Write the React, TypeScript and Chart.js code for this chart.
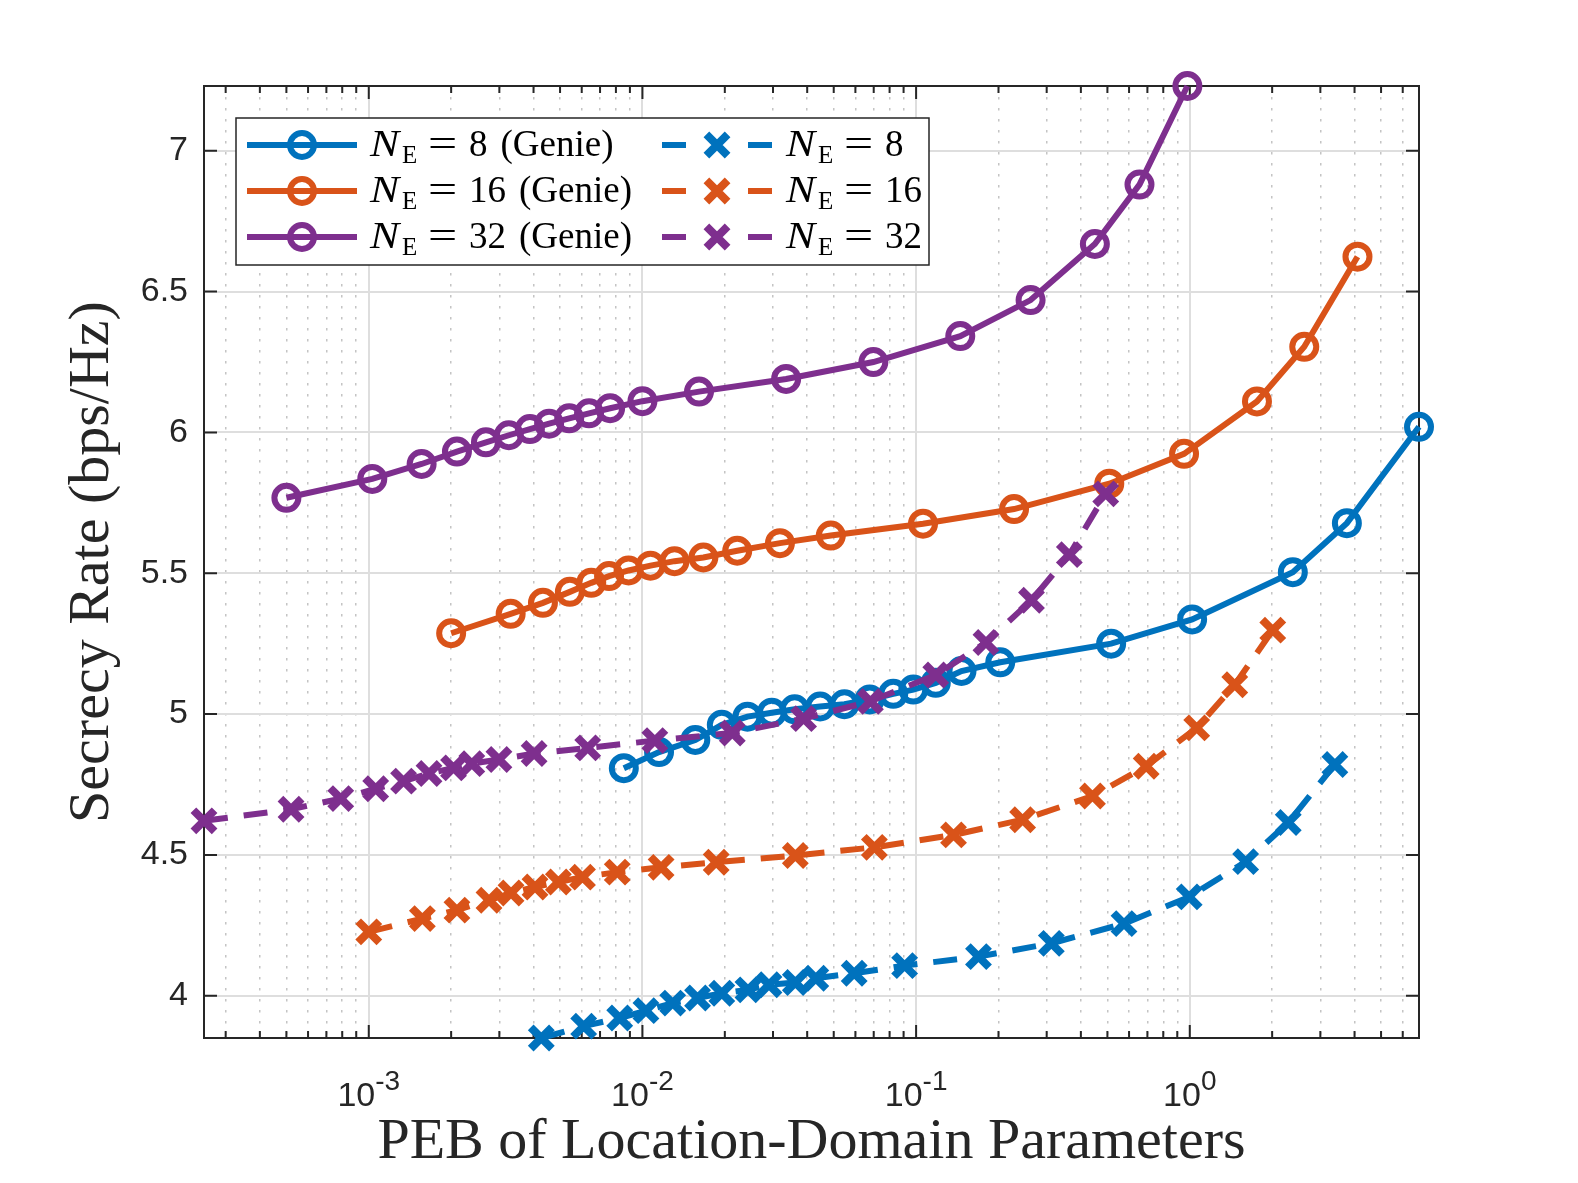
import { useEffect, useRef } from 'react';
import { Chart, registerables } from 'chart.js';
import type { Plugin } from 'chart.js';

Chart.register(...registerables);

const BLUE = '#0072BD';
const ORANGE = '#D95319';
const PURPLE = '#7E2F8E';
const AXIS = '#262626';

// genie (solid, circles)
const genie8X = [8.55e-3, 0.0115, 0.0156, 0.0195, 0.0242, 0.0297, 0.036, 0.0446, 0.0547, 0.0677, 0.0825, 0.0977, 0.118, 0.1465, 0.203, 0.516, 1.02, 2.38, 3.75, 6.88];
const genie8Y = [4.808, 4.865, 4.908, 4.962, 4.991, 5.005, 5.017, 5.027, 5.035, 5.052, 5.072, 5.087, 5.111, 5.153, 5.184, 5.25, 5.336, 5.504, 5.678, 6.02];

const genie16X = [2.0e-3, 3.3e-3, 4.33e-3, 5.43e-3, 6.5e-3, 7.55e-3, 8.9e-3, 0.0107, 0.0131, 0.0167, 0.0222, 0.0318, 0.0488, 0.106, 0.228, 0.508, 0.953, 1.76, 2.62, 4.1];
const genie16Y = [5.287, 5.356, 5.395, 5.434, 5.466, 5.49, 5.51, 5.527, 5.543, 5.556, 5.58, 5.607, 5.634, 5.676, 5.728, 5.818, 5.924, 6.11, 6.304, 6.624];

const genie32X = [5.0e-4, 1.03e-3, 1.56e-3, 2.1e-3, 2.68e-3, 3.25e-3, 3.88e-3, 4.56e-3, 5.4e-3, 6.38e-3, 7.62e-3, 0.01, 0.0161, 0.0335, 0.0698, 0.145, 0.262, 0.45, 0.655, 0.98];
const genie32Y = [5.768, 5.835, 5.888, 5.932, 5.965, 5.99, 6.012, 6.031, 6.05, 6.068, 6.086, 6.111, 6.145, 6.19, 6.25, 6.342, 6.47, 6.669, 6.88, 7.23];

// estimated (dashed, crosses)
const est8X = [4.27e-3, 6.1e-3, 8.26e-3, 0.0103, 0.0129, 0.0159, 0.0195, 0.0243, 0.029, 0.0362, 0.043, 0.0594, 0.0908, 0.169, 0.312, 0.575, 0.995, 1.6, 2.29, 3.39];
const est8Y = [3.85, 3.892, 3.921, 3.947, 3.974, 3.992, 4.009, 4.021, 4.039, 4.047, 4.062, 4.08, 4.107, 4.139, 4.186, 4.256, 4.351, 4.476, 4.615, 4.821];

const est16X = [1.0e-3, 1.57e-3, 2.1e-3, 2.75e-3, 3.31e-3, 4.05e-3, 4.93e-3, 6.04e-3, 8.09e-3, 0.0117, 0.0186, 0.0362, 0.0704, 0.137, 0.245, 0.441, 0.693, 1.06, 1.46, 2.01];
const est16Y = [4.227, 4.274, 4.304, 4.339, 4.365, 4.386, 4.404, 4.421, 4.439, 4.456, 4.474, 4.498, 4.527, 4.571, 4.625, 4.709, 4.815, 4.951, 5.104, 5.298];

const est32X = [2.5e-4, 5.2e-4, 7.9e-4, 1.06e-3, 1.34e-3, 1.66e-3, 2.04e-3, 2.38e-3, 2.99e-3, 4.02e-3, 6.31e-3, 0.0111, 0.0213, 0.0388, 0.0681, 0.118, 0.18, 0.264, 0.363, 0.493];
const est32Y = [4.621, 4.662, 4.7, 4.735, 4.762, 4.789, 4.809, 4.824, 4.839, 4.86, 4.88, 4.906, 4.933, 4.984, 5.045, 5.139, 5.254, 5.404, 5.566, 5.782];

const xMin = 2.5e-4;
const xMax = 6.88;
const yMin = 3.85;
const yMax = 7.23;
const yTicks = [4, 4.5, 5, 5.5, 6, 6.5, 7];
const xDecades = [-4, -3, -2, -1, 0];
const xLabelExps = [-3, -2, -1, 0];
const legendNs = ['8', '16', '32'];
const legendColors = [BLUE, ORANGE, PURPLE];

const W = 1578;
const H = 1183;

const xTickValues: { value: number; major: boolean }[] = [];
xDecades.forEach((e) => {
  for (let m = 1; m <= 9; m++) {
    const v = m * Math.pow(10, e);
    if (v >= xMin && v <= xMax) xTickValues.push({ value: v, major: m === 1 });
  }
});

function series(label: string, xs: number[], ys: number[], color: string, genie: boolean, order: number) {
  return {
    label,
    data: xs.map((x, i) => ({ x, y: ys[i] })),
    borderColor: color,
    backgroundColor: color,
    borderWidth: 6,
    borderDash: genie ? [] : [24, 16],
    pointStyle: genie ? 'circle' : 'crossRot',
    pointRadius: genie ? 12 : 15,
    pointBorderWidth: genie ? 6 : 8,
    pointBackgroundColor: genie ? 'rgba(0,0,0,0)' : color,
    pointBorderColor: color,
    tension: 0,
    clip: false as const,
    order,
  };
}

function drawLabel(ctx: CanvasRenderingContext2D, x: number, base: number, n: string, genie: boolean) {
  ctx.fillStyle = '#000';
  ctx.textAlign = 'left';
  ctx.textBaseline = 'alphabetic';
  ctx.font = 'italic 38px "Liberation Serif"';
  ctx.save();
  ctx.translate(x, base);
  ctx.scale(1.15, 1);
  ctx.fillText('N', 0, 0);
  ctx.restore();
  ctx.font = '25px "Liberation Serif"';
  ctx.fillText('E', x + 32, base + 7);
  ctx.font = '37px "Liberation Serif"';
  ctx.save();
  ctx.translate(x + 58, base);
  ctx.scale(1.4, 1);
  ctx.fillText('=', 0, 0);
  ctx.restore();
  ctx.fillText(n, x + 99, base);
  if (genie) {
    const w = ctx.measureText(n).width;
    ctx.fillText('(Genie)', x + 99 + w + 13, base);
  }
}

const matlabAxes: Plugin<'line'> = {
  id: 'matlabAxes',
  beforeDatasetsDraw(chart) {
    const { ctx, chartArea: a, scales } = chart;
    const xs = scales.x;
    const ys = scales.y;
    ctx.save();
    ctx.strokeStyle = AXIS;
    ctx.lineWidth = 2;
    ctx.beginPath();
    xs.ticks.forEach((t) => {
      const px = xs.getPixelForValue(t.value);
      const len = t.major ? 13 : 7;
      ctx.moveTo(px, a.bottom);
      ctx.lineTo(px, a.bottom - len);
      ctx.moveTo(px, a.top);
      ctx.lineTo(px, a.top + len);
    });
    ys.ticks.forEach((t) => {
      const py = ys.getPixelForValue(t.value);
      ctx.moveTo(a.left, py);
      ctx.lineTo(a.left + 13, py);
      ctx.moveTo(a.right, py);
      ctx.lineTo(a.right - 13, py);
    });
    ctx.stroke();
    ctx.strokeRect(a.left, a.top, a.right - a.left, a.bottom - a.top);
    ctx.restore();
  },
  afterDraw(chart) {
    const { ctx, chartArea: a, scales } = chart;
    const xs = scales.x;
    ctx.save();

    // x tick labels 10^e
    ctx.fillStyle = AXIS;
    ctx.textBaseline = 'alphabetic';
    ctx.textAlign = 'left';
    xLabelExps.forEach((e) => {
      const px = xs.getPixelForValue(Math.pow(10, e));
      const sup = String(e);
      ctx.font = '34px "Liberation Sans"';
      const w1 = ctx.measureText('10').width;
      ctx.font = '28px "Liberation Sans"';
      const w2 = ctx.measureText(sup).width;
      const x0 = px - (w1 + w2) / 2;
      ctx.font = '34px "Liberation Sans"';
      ctx.fillText('10', x0, a.bottom + 68);
      ctx.font = '28px "Liberation Sans"';
      ctx.fillText(sup, x0 + w1, a.bottom + 52);
    });

    // legend
    const lx = a.left + 32;
    const ly = a.top + 32;
    ctx.fillStyle = '#fff';
    ctx.fillRect(lx, ly, 693, 147);
    ctx.strokeStyle = AXIS;
    ctx.lineWidth = 1.5;
    ctx.strokeRect(lx, ly, 693, 147);

    legendNs.forEach((n, i) => {
      const color = legendColors[i];
      const ry = ly + 27 + i * 46;

      // genie entry
      ctx.strokeStyle = color;
      ctx.lineWidth = 6;
      ctx.beginPath();
      ctx.moveTo(lx + 11, ry);
      ctx.lineTo(lx + 121, ry);
      ctx.stroke();
      ctx.beginPath();
      ctx.arc(lx + 66, ry, 12, 0, Math.PI * 2);
      ctx.stroke();
      drawLabel(ctx, lx + 134, ry + 11, n, true);

      // estimated entry
      ctx.strokeStyle = color;
      ctx.lineWidth = 6;
      ctx.beginPath();
      ctx.moveTo(lx + 426, ry);
      ctx.lineTo(lx + 450, ry);
      ctx.moveTo(lx + 512, ry);
      ctx.lineTo(lx + 536, ry);
      ctx.stroke();
      const mx = lx + 481;
      const d = 15 * Math.SQRT1_2;
      ctx.lineWidth = 8;
      ctx.beginPath();
      ctx.moveTo(mx - d, ry - d);
      ctx.lineTo(mx + d, ry + d);
      ctx.moveTo(mx + d, ry - d);
      ctx.lineTo(mx - d, ry + d);
      ctx.stroke();
      drawLabel(ctx, lx + 550, ry + 11, n, false);
    });

    ctx.restore();
  },
};

export default function App() {
  const canvasRef = useRef<HTMLCanvasElement>(null);
  const chartRef = useRef<Chart | null>(null);

  useEffect(() => {
    document.body.style.margin = '0';
    document.body.style.overflow = 'hidden';
    if (!canvasRef.current) return;
    const ctx = canvasRef.current.getContext('2d');
    if (!ctx) return;
    if (chartRef.current) chartRef.current.destroy();

    chartRef.current = new Chart(ctx, {
      type: 'line',
      data: {
        datasets: [
          series('N_E = 8 (Genie)', genie8X, genie8Y, BLUE, true, 6),
          series('N_E = 16 (Genie)', genie16X, genie16Y, ORANGE, true, 5),
          series('N_E = 32 (Genie)', genie32X, genie32Y, PURPLE, true, 4),
          series('N_E = 8', est8X, est8Y, BLUE, false, 3),
          series('N_E = 16', est16X, est16Y, ORANGE, false, 2),
          series('N_E = 32', est32X, est32Y, PURPLE, false, 1),
        ] as any,
      },
      options: {
        animation: false,
        responsive: false,
        devicePixelRatio: 1,
        events: [],
        layout: { padding: { left: 0, top: 86, right: 159, bottom: 0 } },
        plugins: {
          legend: { display: false },
          tooltip: { enabled: false },
        },
        scales: {
          x: {
            type: 'logarithmic',
            min: xMin,
            max: xMax,
            afterBuildTicks: (s: any) => {
              s.ticks = xTickValues.map((t) => ({ ...t }));
            },
            afterFit: (s: any) => {
              s.height = 145;
            },
            ticks: { display: false, autoSkip: false },
            grid: {
              drawTicks: false,
              color: (c: any) => (c.tick && c.tick.major ? '#DEDEDE' : '#C4C4C4'),
              lineWidth: (c: any) => (c.tick && c.tick.major ? 2 : 1.5),
            },
            border: {
              display: false,
              dash: (c: any) => (c.tick && !c.tick.major ? [2.5, 8.5] : []),
            },
            title: {
              display: true,
              text: 'PEB of Location-Domain Parameters',
              color: AXIS,
              font: { family: 'Liberation Serif', size: 58 },
              padding: { top: 0, bottom: 5 },
            },
          },
          y: {
            type: 'linear',
            min: yMin,
            max: yMax,
            afterBuildTicks: (s: any) => {
              s.ticks = yTicks.map((v) => ({ value: v }));
            },
            afterFit: (s: any) => {
              s.width = 204;
            },
            ticks: {
              autoSkip: false,
              color: AXIS,
              padding: 16,
              font: { family: 'Liberation Sans', size: 34 },
              callback: (v: string | number) => String(v),
            },
            grid: { drawTicks: false, color: '#DEDEDE', lineWidth: 2 },
            border: { display: false },
            title: {
              display: true,
              text: 'Secrecy Rate (bps/Hz)',
              color: AXIS,
              font: { family: 'Liberation Serif', size: 58 },
              padding: { top: 58, bottom: 0 },
            },
          },
        },
      },
      plugins: [matlabAxes],
    });

    return () => {
      if (chartRef.current) {
        chartRef.current.destroy();
        chartRef.current = null;
      }
    };
  }, []);

  return (
    <div style={{ position: 'fixed', left: 0, top: 0, width: W + 'px', height: H + 'px', background: '#fff' }}>
      <canvas ref={canvasRef} width={W} height={H} style={{ width: W + 'px', height: H + 'px', display: 'block' }} />
    </div>
  );
}
